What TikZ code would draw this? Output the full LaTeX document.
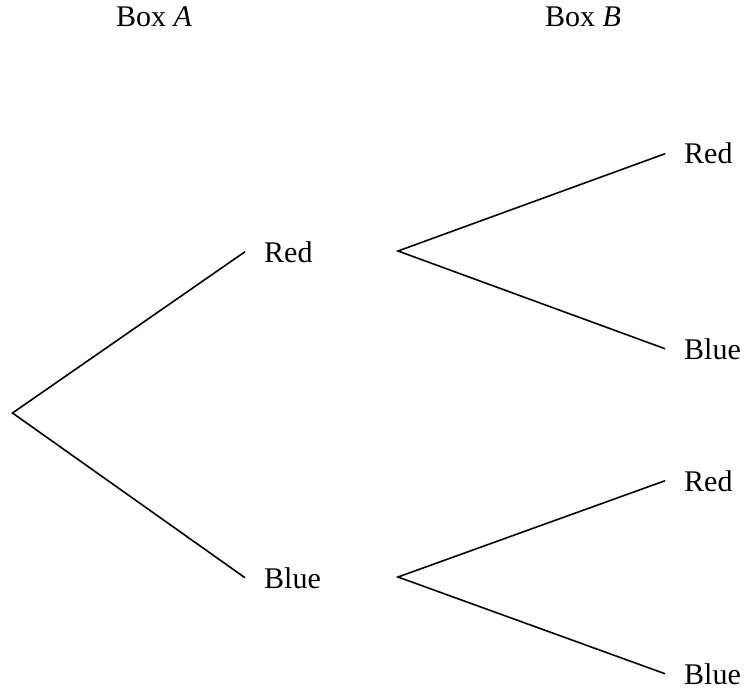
\documentclass[tikz,border=0pt]{standalone}
\usepackage{fontspec}
\setmainfont{Liberation Serif}
\begin{document}
\begin{tikzpicture}[x=1pt,y=-1pt,
  lbl/.style={inner xsep=19pt,inner ysep=0pt,font=\fontsize{30}{36}\selectfont},
  hdr/.style={inner sep=0pt,anchor=base,font=\fontsize{30}{36}\selectfont},
  branch/.style={line width=1.6pt}]
\useasboundingbox (0,0) rectangle (747,690);
\node[hdr] (boxA) at (154,27) {Box \textit{A}};
\node[hdr] (boxB) at (583,27) {Box \textit{B}};
\coordinate (root) at (12.5,413);
\node[lbl,anchor=base west] (redA) at (245,262) {Red};
\node[lbl,anchor=base west] (blueA) at (245,588) {Blue};
\coordinate (jR) at (398,251);
\coordinate (jB) at (398,577);
\node[lbl,anchor=base west] (rr) at (665,164) {Red};
\node[lbl,anchor=base west] (rb) at (665,359) {Blue};
\node[lbl,anchor=base west] (br) at (665,491) {Red};
\node[lbl,anchor=base west] (bb) at (665,684) {Blue};
\draw[branch] (redA.west) -- (root) -- (blueA.west);
\draw[branch] (rr.west) -- (jR) -- (rb.west);
\draw[branch] (br.west) -- (jB) -- (bb.west);
\end{tikzpicture}
\end{document}
